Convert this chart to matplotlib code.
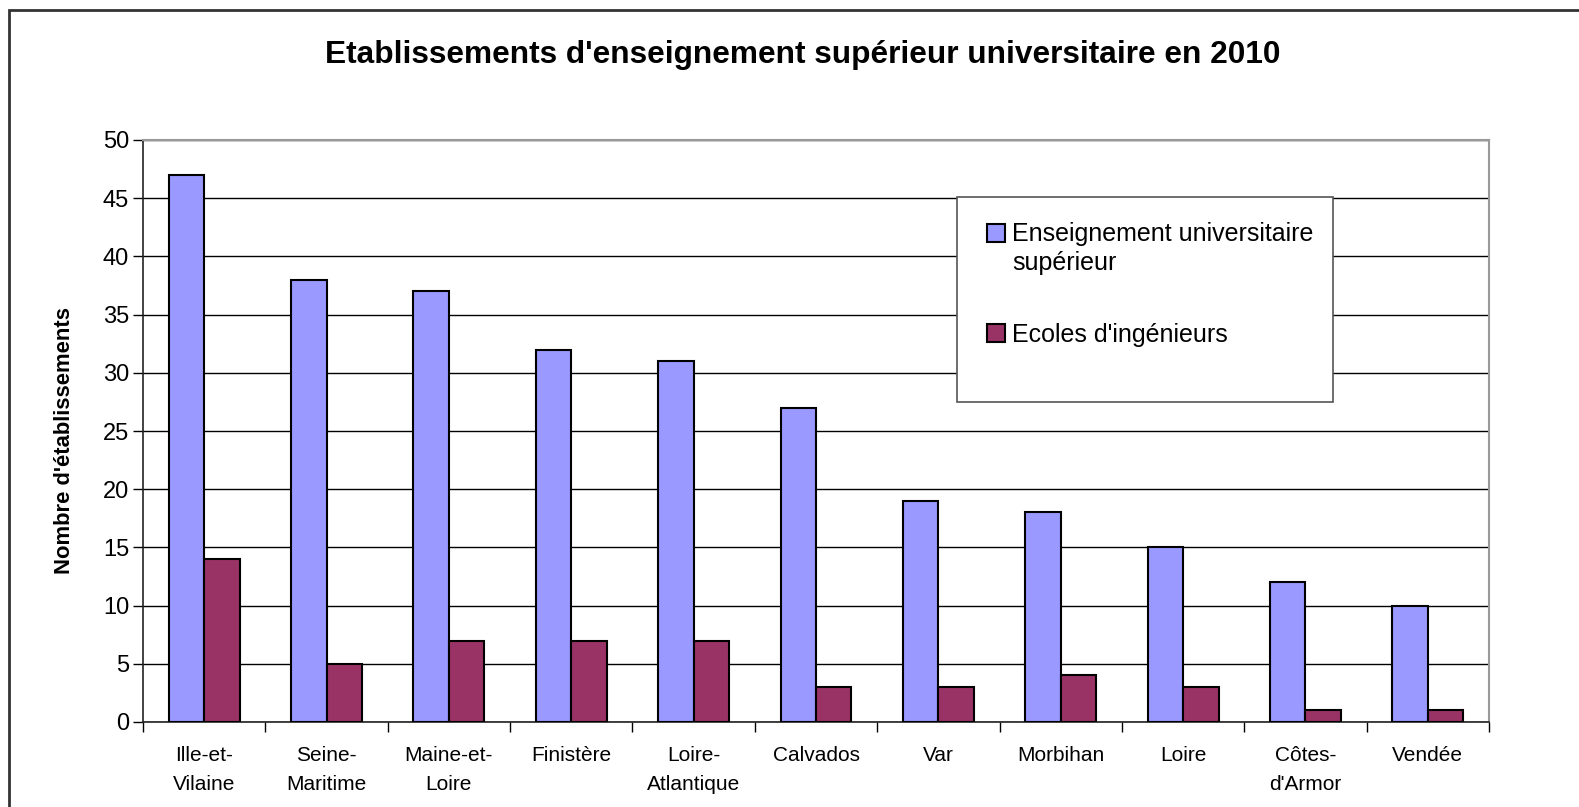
import matplotlib
matplotlib.use("Agg")
import matplotlib.pyplot as plt
import numpy as np

# ------------------------
# données
# ------------------------
departements = ["Ille-et-\nVilaine", "Seine-\nMaritime", "Maine-et-\nLoire", "Finistère",
                "Loire-\nAtlantique", "Calvados", "Var", "Morbihan", "Loire",
                "Côtes-\nd'Armor", "Vendée"]
univ = [47, 38, 37, 32, 31, 27, 19, 18, 15, 12, 10]
ingenieurs = [14, 5, 7, 7, 7, 3, 3, 4, 3, 1, 1]
serie_labels = ["Enseignement universitaire\nsupérieur", "Ecoles d'ingénieurs"]
yticks = [0, 5, 10, 15, 20, 25, 30, 35, 40, 45, 50]

W, H = 1579, 807
plt.rcParams['font.family'] = ['Liberation Sans', 'DejaVu Sans']

fig = plt.figure(figsize=(W/100, H/100), dpi=100)
ax = fig.add_axes([143/W, 1-722/H, (1489-143)/W, (722-140)/H])

# cadre extérieur
fig.patches.append(plt.Rectangle((8.5/W, -0.1), 1.2, 1-10/H+0.1, transform=fig.transFigure,
                                 facecolor='none', edgecolor='#333333', linewidth=2))

x = np.arange(len(departements))
bw = 0.29
ax.bar(x - bw/2, univ, bw, color='#9999FF', edgecolor='black', linewidth=1.5, zorder=3,
       label=serie_labels[0])
ax.bar(x + bw/2, ingenieurs, bw, color='#993366', edgecolor='black', linewidth=1.5, zorder=3,
       label=serie_labels[1])

ax.set_xlim(-0.5, len(departements) - 0.5)
ax.set_ylim(0, 50)
ax.set_yticks(yticks)
ax.yaxis.grid(True, color='black', linewidth=1, zorder=0)
ax.set_axisbelow(True)

ax.set_xticks(x)
ax.set_xticklabels(departements, fontsize=15, linespacing=1.7, va='top')
ax.tick_params(axis='x', length=0, pad=17)
ax.set_xticks(np.arange(len(departements) + 1) - 0.5, minor=True)
ax.tick_params(axis='x', which='minor', length=7, width=1, direction='out')
ax.tick_params(axis='y', labelsize=17, length=7, width=1, pad=3)

for s in ['top', 'right']:
    ax.spines[s].set_color('#999999')
    ax.spines[s].set_linewidth(1.5)
for s in ['left', 'bottom']:
    ax.spines[s].set_color('#222222')
    ax.spines[s].set_linewidth(1.2)

ax.set_ylabel("Nombre d'établissements", fontsize=15.8, fontweight='bold')
ax.yaxis.set_label_coords((75-143)/(1489-143), 0.484)

fig.text(803/W, 1-55/H, "Etablissements d'enseignement supérieur universitaire en 2010",
         ha='center', va='center', fontsize=22.8, fontweight='bold')

# légende
ax.add_patch(plt.Rectangle((957/W, 1-402/H), (1333-957)/W, (402-197)/H,
                           transform=fig.transFigure, facecolor='white', clip_on=False,
                           edgecolor='#555555', linewidth=1.2, zorder=5))
leg = ax.legend(loc='upper left', bbox_to_anchor=(965/W, 1-199/H), bbox_transform=fig.transFigure,
                frameon=False, fontsize=18, handlelength=0.7, handleheight=0.7,
                handletextpad=0.3, labelspacing=1.9)
leg.set_zorder(6)
for t in leg.get_texts():
    t.set_linespacing(1.3)
# carré aligné sur la première ligne
h0 = leg.legend_handles[0]
h0.set_y(h0.get_y() + 11.5)

fig.savefig("out.png", dpi=100, facecolor='white')
